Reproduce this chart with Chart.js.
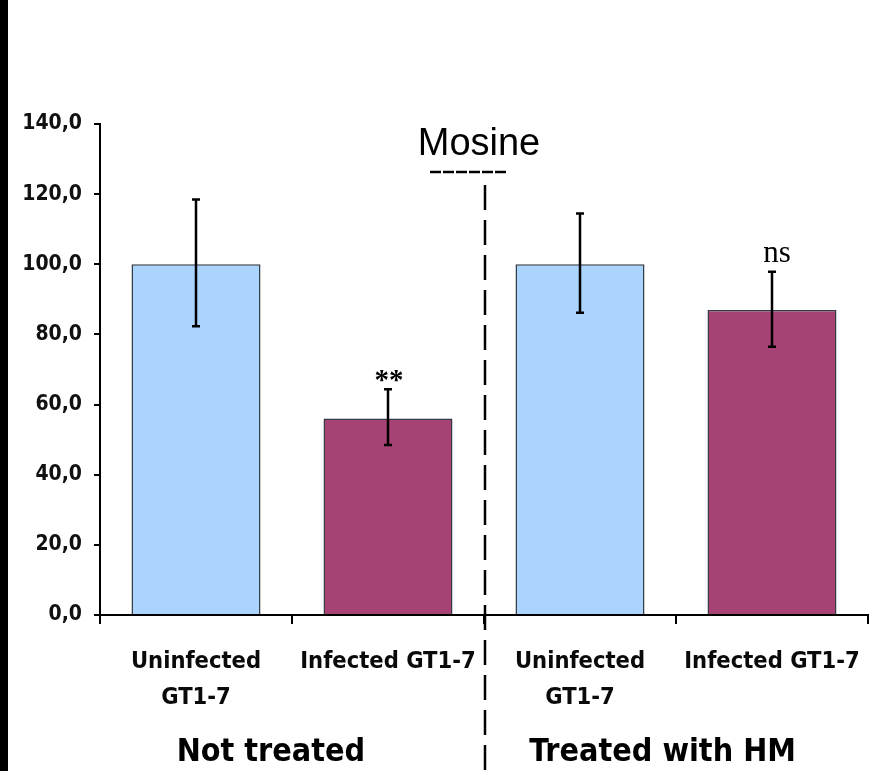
<!DOCTYPE html>
<html>
<head>
<meta charset="utf-8">
<script src="https://cdn.jsdelivr.net/npm/chart.js@4/dist/chart.umd.min.js"></script>
<style>
  html, body { margin: 0; padding: 0; background: #ffffff; }
  canvas { display: block; }
</style>
</head>
<body>
<canvas id="chart" width="869" height="771"></canvas>
<script>
// Category labels (multi-line where wrapped)
const categories = [["Uninfected", "GT1-7"], "Infected GT1-7", ["Uninfected", "GT1-7"], "Infected GT1-7"];
// Mean values
const values = [100, 56, 100, 87];
// Error bar extents (upper and lower ends)
const errHigh = [118.5, 64.4, 114.5, 97.9];
const errLow = [82.3, 48.5, 86.2, 76.5];
// Significance marks above the error bars
const sigLabels = ["", "**", "", "ns"];
// Group captions under the axis
const groupLabels = ["Not treated", "Treated with HM"];
// Caption above the divider
const dividerLabel = "Mosine";
// Y axis ticks
const yTicks = { min: 0, max: 140, step: 20 };

const BLUE = '#aad4fc';
const MAROON = '#a64374';
const barColors = [BLUE, MAROON, BLUE, MAROON];
const condensed = "'DejaVu Sans Condensed', 'DejaVu Sans', sans-serif";

const decorations = {
  id: 'decorations',
  beforeDraw(chart) {
    const ctx = chart.ctx;
    ctx.save();
    ctx.fillStyle = '#ffffff';
    ctx.fillRect(0, 0, chart.width, chart.height);
    ctx.fillStyle = '#000000';
    ctx.fillRect(0, 0, 8, chart.height);
    ctx.restore();
  },
  afterDatasetsDraw(chart) {
    const ctx = chart.ctx;
    const y = chart.scales.y;
    const x = chart.scales.x;
    const meta = chart.getDatasetMeta(0);
    ctx.save();
    // error bars
    ctx.strokeStyle = '#000000';
    ctx.lineWidth = 2.5;
    meta.data.forEach((bar, i) => {
      const yh = y.getPixelForValue(errHigh[i]);
      const yl = y.getPixelForValue(errLow[i]);
      ctx.beginPath();
      ctx.moveTo(bar.x, yh); ctx.lineTo(bar.x, yl);
      ctx.moveTo(bar.x - 4, yh); ctx.lineTo(bar.x + 4, yh);
      ctx.moveTo(bar.x - 4, yl); ctx.lineTo(bar.x + 4, yl);
      ctx.stroke();
    });
    // significance marks
    ctx.fillStyle = '#000000';
    ctx.textAlign = 'center';
    ctx.textBaseline = 'bottom';
    meta.data.forEach((bar, i) => {
      if (!sigLabels[i]) return;
      const yh = y.getPixelForValue(errHigh[i]);
      if (sigLabels[i] === '**') {
        ctx.font = "bold 29px 'Liberation Serif', serif";
        ctx.fillText(sigLabels[i], bar.x + 1, yh + 7);
      } else {
        ctx.font = "31px 'Liberation Serif', serif";
        ctx.fillText(sigLabels[i], bar.x + 5, yh - 2);
      }
    });
    // dashed divider between the two groups
    const xd = (x.getPixelForValue(1) + x.getPixelForValue(2)) / 2 + 1;
    ctx.lineWidth = 2.5;
    ctx.setLineDash([25, 10]);
    ctx.beginPath();
    ctx.moveTo(xd, 185);
    ctx.lineTo(xd, chart.height);
    ctx.stroke();
    // short dashed stroke under the caption
    ctx.setLineDash([11, 2]);
    ctx.beginPath();
    ctx.moveTo(xd - 55, 172);
    ctx.lineTo(xd + 23, 172);
    ctx.stroke();
    ctx.setLineDash([]);
    // divider caption
    ctx.font = "38px 'Liberation Sans', Arial, sans-serif";
    ctx.textBaseline = 'alphabetic';
    ctx.textAlign = 'center';
    ctx.fillText(dividerLabel, xd - 6, 155);
    // group captions
    ctx.font = "bold 32px " + condensed;
    ctx.textBaseline = 'middle';
    ctx.fillText(groupLabels[0], x.getPixelForValue(0.39), 753);
    ctx.fillText(groupLabels[1], x.getPixelForValue(2.43), 753);
    ctx.restore();
  }
};

new Chart(document.getElementById('chart'), {
  type: 'bar',
  data: {
    labels: categories,
    datasets: [{
      data: values,
      backgroundColor: barColors,
      borderColor: '#333d47',
      borderWidth: 1.5,
      barPercentage: 0.672,
      categoryPercentage: 1.0
    }]
  },
  options: {
    responsive: false,
    animation: false,
    events: [],
    layout: { padding: { top: 124, right: 1, left: 0, bottom: 0 } },
    plugins: {
      legend: { display: false },
      tooltip: { enabled: false },
      title: { display: false }
    },
    scales: {
      x: {
        afterFit(scale) {
          scale.height = 156;
          scale.paddingLeft = 0;
          scale.paddingRight = 0;
        },
        grid: {
          offset: true,
          drawOnChartArea: false,
          drawTicks: true,
          tickLength: 9,
          color: '#000000',
          lineWidth: 2
        },
        border: { display: true, color: '#000000', width: 2 },
        ticks: {
          autoSkip: false,
          maxRotation: 0,
          minRotation: 0,
          padding: 20,
          color: '#0a0a0a',
          font: { family: condensed, size: 23.5, weight: 'bold', lineHeight: 36 / 23.5 }
        }
      },
      y: {
        min: yTicks.min,
        max: yTicks.max,
        afterFit(scale) { scale.width = 100; },
        grid: {
          drawOnChartArea: false,
          drawTicks: true,
          tickLength: 6,
          color: '#000000',
          lineWidth: 2
        },
        border: { display: true, color: '#000000', width: 2 },
        ticks: {
          stepSize: yTicks.step,
          padding: 12,
          color: '#111111',
          font: { family: condensed, size: 21, weight: 'bold' },
          callback: (v) => Number(v).toFixed(1).replace('.', ',')
        }
      }
    }
  },
  plugins: [decorations]
});
</script>
</body>
</html>
